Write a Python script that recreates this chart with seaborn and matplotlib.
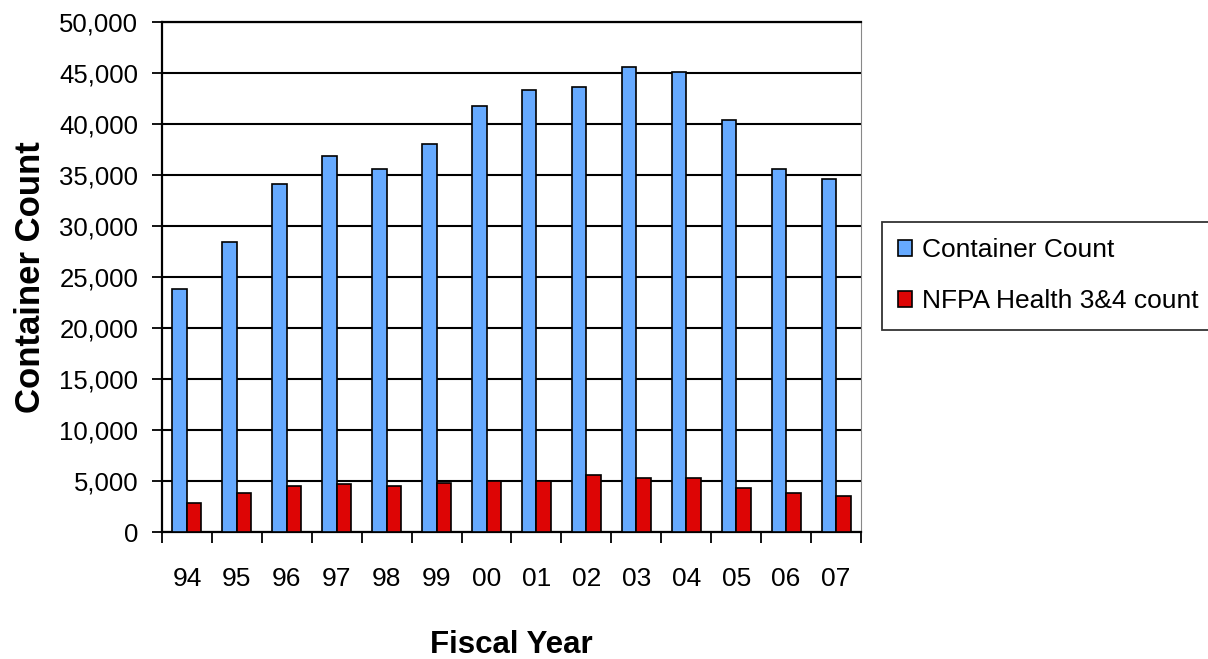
import matplotlib
matplotlib.use("Agg")
import matplotlib.pyplot as plt
from matplotlib.ticker import FixedLocator, FuncFormatter
import seaborn as sns
import pandas as pd

# Fiscal years and counts per year
years = ["94", "95", "96", "97", "98", "99", "00", "01", "02", "03", "04", "05", "06", "07"]
container_count = [23850, 28400, 34080, 36840, 35630, 38050, 41790, 43340,
                   43600, 45630, 45080, 40350, 35590, 34610]
nfpa_count = [2820, 3800, 4530, 4720, 4490, 4780, 4980, 4980,
              5570, 5280, 5280, 4290, 3800, 3540]
series_names = ["Container Count", "NFPA Health 3&4 count"]
series_colors = ["#66aaff", "#dd0505"]

df = pd.DataFrame({
    "Fiscal Year": years * 2,
    "Count": container_count + nfpa_count,
    "Series": [series_names[0]] * len(years) + [series_names[1]] * len(years),
})

sns.set_theme(style="white")
plt.rcParams["font.family"] = ["Liberation Sans", "DejaVu Sans"]
plt.rcParams["text.color"] = "black"
plt.rcParams["axes.labelcolor"] = "black"
plt.rcParams["xtick.color"] = "black"
plt.rcParams["ytick.color"] = "black"

fig = plt.figure(figsize=(12.08, 6.59), dpi=100)
ax = fig.add_axes([162 / 1208, 1 - 532 / 659, (861 - 162) / 1208, (532 - 22) / 659])

sns.barplot(data=df, x="Fiscal Year", y="Count", hue="Series", order=years,
            hue_order=series_names, palette=series_colors, width=0.58,
            edgecolor="black", linewidth=1.2, saturation=1, ax=ax, zorder=3)

ax.set_ylim(0, 50000)
ax.set_xlim(-0.5, len(years) - 0.5)
ax.yaxis.set_major_locator(FixedLocator(range(0, 50001, 5000)))
ax.yaxis.set_major_formatter(FuncFormatter(lambda v, p: f"{int(v):,}"))
ax.grid(axis="y", color="black", linewidth=1.5, zorder=0)
ax.set_axisbelow(True)

# category boundary ticks below the x axis
ax.set_xticks([i - 0.5 for i in range(len(years) + 1)], minor=True)
ax.tick_params(axis="x", which="minor", length=8, width=1.3, color="black", bottom=True)
ax.tick_params(axis="x", which="major", length=0, pad=25, labelsize=19)
ax.tick_params(axis="y", which="major", length=7, width=1.3, color="black",
               left=True, pad=10, labelsize=18.5)

for side in ["left", "bottom", "top"]:
    ax.spines[side].set_visible(True)
    ax.spines[side].set_color("black")
    ax.spines[side].set_linewidth(1.6)
ax.spines["right"].set_visible(True)
ax.spines["right"].set_color("#888888")
ax.spines["right"].set_linewidth(0.8)

ax.set_ylabel("Container Count", fontsize=25, fontweight="bold", labelpad=9)
ax.set_xlabel("Fiscal Year", fontsize=22.5, fontweight="bold", labelpad=28)

handles, labels = ax.get_legend_handles_labels()
ax.legend_.remove()
leg = fig.legend(handles, labels, loc="upper left",
                 bbox_to_anchor=(882 / 1208, 1 - 222 / 659),
                 bbox_transform=fig.transFigure, fontsize=19, frameon=True,
                 fancybox=False, edgecolor="black", handlelength=0.52,
                 handleheight=0.56, handletextpad=0.38, labelspacing=1.02,
                 borderpad=0.62, borderaxespad=0)
leg.get_frame().set_linewidth(1.3)

fig.savefig("out.png", dpi=100)
